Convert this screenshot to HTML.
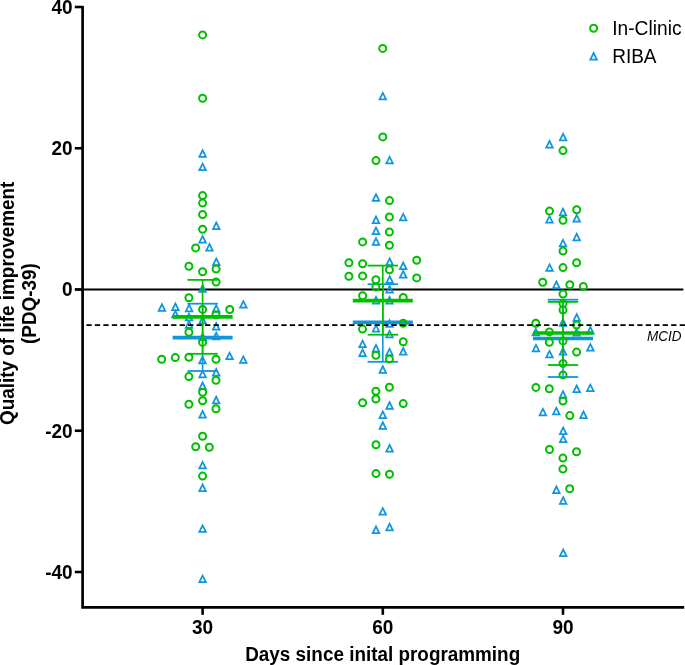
<!DOCTYPE html>
<html><head><meta charset="utf-8"><style>
html,body{margin:0;padding:0;background:#fff;}
body{width:685px;height:665px;overflow:hidden;position:relative;}
svg{position:absolute;left:0;top:0;}
text{font-family:"Liberation Sans",sans-serif;}
svg{-webkit-font-smoothing:antialiased;will-change:transform;}
</style></head><body>
<svg width="685" height="665" viewBox="0 0 685 665">
<rect width="685" height="665" fill="#fff"/>
<!-- reference lines -->
<line x1="75" y1="289.5" x2="683.4" y2="289.5" stroke="#000" stroke-width="2.1"/>
<path d="M202.60,148.30L197.90,157.70L207.30,157.70ZM202.60,152.21L204.47,155.95L200.73,155.95Z" fill="#0f96dc" fill-rule="evenodd"/>
<path d="M202.60,161.70L197.90,171.10L207.30,171.10ZM202.60,165.61L204.47,169.35L200.73,169.35Z" fill="#0f96dc" fill-rule="evenodd"/>
<path d="M216.30,220.50L211.60,229.90L221.00,229.90ZM216.30,224.41L218.17,228.15L214.43,228.15Z" fill="#0f96dc" fill-rule="evenodd"/>
<path d="M202.60,234.00L197.90,243.40L207.30,243.40ZM202.60,237.91L204.47,241.65L200.73,241.65Z" fill="#0f96dc" fill-rule="evenodd"/>
<path d="M209.50,242.00L204.80,251.40L214.20,251.40ZM209.50,245.91L211.37,249.65L207.63,249.65Z" fill="#0f96dc" fill-rule="evenodd"/>
<path d="M216.30,256.50L211.60,265.90L221.00,265.90ZM216.30,260.41L218.17,264.15L214.43,264.15Z" fill="#0f96dc" fill-rule="evenodd"/>
<path d="M202.60,283.30L197.90,292.70L207.30,292.70ZM202.60,287.21L204.47,290.95L200.73,290.95Z" fill="#0f96dc" fill-rule="evenodd"/>
<path d="M243.40,299.20L238.70,308.60L248.10,308.60ZM243.40,303.11L245.27,306.85L241.53,306.85Z" fill="#0f96dc" fill-rule="evenodd"/>
<path d="M161.90,302.30L157.20,311.70L166.60,311.70ZM161.90,306.21L163.77,309.95L160.03,309.95Z" fill="#0f96dc" fill-rule="evenodd"/>
<path d="M175.40,301.60L170.70,311.00L180.10,311.00ZM175.40,305.51L177.27,309.25L173.53,309.25Z" fill="#0f96dc" fill-rule="evenodd"/>
<path d="M189.10,302.80L184.40,312.20L193.80,312.20ZM189.10,306.71L190.97,310.45L187.23,310.45Z" fill="#0f96dc" fill-rule="evenodd"/>
<path d="M216.20,303.30L211.50,312.70L220.90,312.70ZM216.20,307.21L218.07,310.95L214.33,310.95Z" fill="#0f96dc" fill-rule="evenodd"/>
<path d="M175.40,308.90L170.70,318.30L180.10,318.30ZM175.40,312.81L177.27,316.55L173.53,316.55Z" fill="#0f96dc" fill-rule="evenodd"/>
<path d="M189.00,311.80L184.30,321.20L193.70,321.20ZM189.00,315.71L190.87,319.45L187.13,319.45Z" fill="#0f96dc" fill-rule="evenodd"/>
<path d="M202.60,314.90L197.90,324.30L207.30,324.30ZM202.60,318.81L204.47,322.55L200.73,322.55Z" fill="#0f96dc" fill-rule="evenodd"/>
<path d="M189.00,319.30L184.30,328.70L193.70,328.70ZM189.00,323.21L190.87,326.95L187.13,326.95Z" fill="#0f96dc" fill-rule="evenodd"/>
<path d="M216.20,321.10L211.50,330.50L220.90,330.50ZM216.20,325.01L218.07,328.75L214.33,328.75Z" fill="#0f96dc" fill-rule="evenodd"/>
<path d="M216.20,330.80L211.50,340.20L220.90,340.20ZM216.20,334.71L218.07,338.45L214.33,338.45Z" fill="#0f96dc" fill-rule="evenodd"/>
<path d="M202.60,331.50L197.90,340.90L207.30,340.90ZM202.60,335.41L204.47,339.15L200.73,339.15Z" fill="#0f96dc" fill-rule="evenodd"/>
<path d="M202.50,354.80L197.80,364.20L207.20,364.20ZM202.50,358.71L204.37,362.45L200.63,362.45Z" fill="#0f96dc" fill-rule="evenodd"/>
<path d="M229.60,350.70L224.90,360.10L234.30,360.10ZM229.60,354.61L231.47,358.35L227.73,358.35Z" fill="#0f96dc" fill-rule="evenodd"/>
<path d="M243.30,354.40L238.60,363.80L248.00,363.80ZM243.30,358.31L245.17,362.05L241.43,362.05Z" fill="#0f96dc" fill-rule="evenodd"/>
<path d="M216.20,367.10L211.50,376.50L220.90,376.50ZM216.20,371.01L218.07,374.75L214.33,374.75Z" fill="#0f96dc" fill-rule="evenodd"/>
<path d="M202.60,368.80L197.90,378.20L207.30,378.20ZM202.60,372.71L204.47,376.45L200.73,376.45Z" fill="#0f96dc" fill-rule="evenodd"/>
<path d="M202.60,380.50L197.90,389.90L207.30,389.90ZM202.60,384.41L204.47,388.15L200.73,388.15Z" fill="#0f96dc" fill-rule="evenodd"/>
<path d="M216.20,394.80L211.50,404.20L220.90,404.20ZM216.20,398.71L218.07,402.45L214.33,402.45Z" fill="#0f96dc" fill-rule="evenodd"/>
<path d="M202.60,409.10L197.90,418.50L207.30,418.50ZM202.60,413.01L204.47,416.75L200.73,416.75Z" fill="#0f96dc" fill-rule="evenodd"/>
<path d="M202.60,459.90L197.90,469.30L207.30,469.30ZM202.60,463.81L204.47,467.55L200.73,467.55Z" fill="#0f96dc" fill-rule="evenodd"/>
<path d="M202.60,482.50L197.90,491.90L207.30,491.90ZM202.60,486.41L204.47,490.15L200.73,490.15Z" fill="#0f96dc" fill-rule="evenodd"/>
<path d="M202.60,523.40L197.90,532.80L207.30,532.80ZM202.60,527.31L204.47,531.05L200.73,531.05Z" fill="#0f96dc" fill-rule="evenodd"/>
<path d="M202.60,573.70L197.90,583.10L207.30,583.10ZM202.60,577.61L204.47,581.35L200.73,581.35Z" fill="#0f96dc" fill-rule="evenodd"/>
<path d="M382.80,90.90L378.10,100.30L387.50,100.30ZM382.80,94.81L384.67,98.55L380.93,98.55Z" fill="#0f96dc" fill-rule="evenodd"/>
<path d="M389.60,154.90L384.90,164.30L394.30,164.30ZM389.60,158.81L391.47,162.55L387.73,162.55Z" fill="#0f96dc" fill-rule="evenodd"/>
<path d="M376.00,192.30L371.30,201.70L380.70,201.70ZM376.00,196.21L377.87,199.95L374.13,199.95Z" fill="#0f96dc" fill-rule="evenodd"/>
<path d="M403.20,211.90L398.50,221.30L407.90,221.30ZM403.20,215.81L405.07,219.55L401.33,219.55Z" fill="#0f96dc" fill-rule="evenodd"/>
<path d="M376.00,214.60L371.30,224.00L380.70,224.00ZM376.00,218.51L377.87,222.25L374.13,222.25Z" fill="#0f96dc" fill-rule="evenodd"/>
<path d="M376.00,225.60L371.30,235.00L380.70,235.00ZM376.00,229.51L377.87,233.25L374.13,233.25Z" fill="#0f96dc" fill-rule="evenodd"/>
<path d="M376.00,236.30L371.30,245.70L380.70,245.70ZM376.00,240.21L377.87,243.95L374.13,243.95Z" fill="#0f96dc" fill-rule="evenodd"/>
<path d="M389.70,256.60L385.00,266.00L394.40,266.00ZM389.70,260.51L391.57,264.25L387.83,264.25Z" fill="#0f96dc" fill-rule="evenodd"/>
<path d="M403.20,260.60L398.50,270.00L407.90,270.00ZM403.20,264.51L405.07,268.25L401.33,268.25Z" fill="#0f96dc" fill-rule="evenodd"/>
<path d="M403.20,269.10L398.50,278.50L407.90,278.50ZM403.20,273.01L405.07,276.75L401.33,276.75Z" fill="#0f96dc" fill-rule="evenodd"/>
<path d="M389.70,274.30L385.00,283.70L394.40,283.70ZM389.70,278.21L391.57,281.95L387.83,281.95Z" fill="#0f96dc" fill-rule="evenodd"/>
<path d="M389.60,284.00L384.90,293.40L394.30,293.40ZM389.60,287.91L391.47,291.65L387.73,291.65Z" fill="#0f96dc" fill-rule="evenodd"/>
<path d="M376.00,295.00L371.30,304.40L380.70,304.40ZM376.00,298.91L377.87,302.65L374.13,302.65Z" fill="#0f96dc" fill-rule="evenodd"/>
<path d="M389.50,295.00L384.80,304.40L394.20,304.40ZM389.50,298.91L391.37,302.65L387.63,302.65Z" fill="#0f96dc" fill-rule="evenodd"/>
<path d="M389.50,318.30L384.80,327.70L394.20,327.70ZM389.50,322.21L391.37,325.95L387.63,325.95Z" fill="#0f96dc" fill-rule="evenodd"/>
<path d="M376.00,323.20L371.30,332.60L380.70,332.60ZM376.00,327.11L377.87,330.85L374.13,330.85Z" fill="#0f96dc" fill-rule="evenodd"/>
<path d="M389.50,328.90L384.80,338.30L394.20,338.30ZM389.50,332.81L391.37,336.55L387.63,336.55Z" fill="#0f96dc" fill-rule="evenodd"/>
<path d="M362.60,338.70L357.90,348.10L367.30,348.10ZM362.60,342.61L364.47,346.35L360.73,346.35Z" fill="#0f96dc" fill-rule="evenodd"/>
<path d="M362.60,347.50L357.90,356.90L367.30,356.90ZM362.60,351.41L364.47,355.15L360.73,355.15Z" fill="#0f96dc" fill-rule="evenodd"/>
<path d="M376.00,343.00L371.30,352.40L380.70,352.40ZM376.00,346.91L377.87,350.65L374.13,350.65Z" fill="#0f96dc" fill-rule="evenodd"/>
<path d="M389.50,346.90L384.80,356.30L394.20,356.30ZM389.50,350.81L391.37,354.55L387.63,354.55Z" fill="#0f96dc" fill-rule="evenodd"/>
<path d="M403.20,346.00L398.50,355.40L407.90,355.40ZM403.20,349.91L405.07,353.65L401.33,353.65Z" fill="#0f96dc" fill-rule="evenodd"/>
<path d="M382.80,364.30L378.10,373.70L387.50,373.70ZM382.80,368.21L384.67,371.95L380.93,371.95Z" fill="#0f96dc" fill-rule="evenodd"/>
<path d="M389.60,400.30L384.90,409.70L394.30,409.70ZM389.60,404.21L391.47,407.95L387.73,407.95Z" fill="#0f96dc" fill-rule="evenodd"/>
<path d="M382.80,409.60L378.10,419.00L387.50,419.00ZM382.80,413.51L384.67,417.25L380.93,417.25Z" fill="#0f96dc" fill-rule="evenodd"/>
<path d="M382.80,420.30L378.10,429.70L387.50,429.70ZM382.80,424.21L384.67,427.95L380.93,427.95Z" fill="#0f96dc" fill-rule="evenodd"/>
<path d="M389.60,443.00L384.90,452.40L394.30,452.40ZM389.60,446.91L391.47,450.65L387.73,450.65Z" fill="#0f96dc" fill-rule="evenodd"/>
<path d="M382.80,506.20L378.10,515.60L387.50,515.60ZM382.80,510.11L384.67,513.85L380.93,513.85Z" fill="#0f96dc" fill-rule="evenodd"/>
<path d="M376.00,524.60L371.30,534.00L380.70,534.00ZM376.00,528.51L377.87,532.25L374.13,532.25Z" fill="#0f96dc" fill-rule="evenodd"/>
<path d="M389.60,521.80L384.90,531.20L394.30,531.20ZM389.60,525.71L391.47,529.45L387.73,529.45Z" fill="#0f96dc" fill-rule="evenodd"/>
<path d="M563.10,131.80L558.40,141.20L567.80,141.20ZM563.10,135.71L564.97,139.45L561.23,139.45Z" fill="#0f96dc" fill-rule="evenodd"/>
<path d="M549.50,139.00L544.80,148.40L554.20,148.40ZM549.50,142.91L551.37,146.65L547.63,146.65Z" fill="#0f96dc" fill-rule="evenodd"/>
<path d="M563.00,206.80L558.30,216.20L567.70,216.20ZM563.00,210.71L564.87,214.45L561.13,214.45Z" fill="#0f96dc" fill-rule="evenodd"/>
<path d="M549.50,214.20L544.80,223.60L554.20,223.60ZM549.50,218.11L551.37,221.85L547.63,221.85Z" fill="#0f96dc" fill-rule="evenodd"/>
<path d="M576.70,213.10L572.00,222.50L581.40,222.50ZM576.70,217.01L578.57,220.75L574.83,220.75Z" fill="#0f96dc" fill-rule="evenodd"/>
<path d="M576.70,231.80L572.00,241.20L581.40,241.20ZM576.70,235.71L578.57,239.45L574.83,239.45Z" fill="#0f96dc" fill-rule="evenodd"/>
<path d="M563.00,237.90L558.30,247.30L567.70,247.30ZM563.00,241.81L564.87,245.55L561.13,245.55Z" fill="#0f96dc" fill-rule="evenodd"/>
<path d="M549.60,262.40L544.90,271.80L554.30,271.80ZM549.60,266.31L551.47,270.05L547.73,270.05Z" fill="#0f96dc" fill-rule="evenodd"/>
<path d="M556.40,279.60L551.70,289.00L561.10,289.00ZM556.40,283.51L558.27,287.25L554.53,287.25Z" fill="#0f96dc" fill-rule="evenodd"/>
<path d="M576.70,312.30L572.00,321.70L581.40,321.70ZM576.70,316.21L578.57,319.95L574.83,319.95Z" fill="#0f96dc" fill-rule="evenodd"/>
<path d="M563.00,317.30L558.30,326.70L567.70,326.70ZM563.00,321.21L564.87,324.95L561.13,324.95Z" fill="#0f96dc" fill-rule="evenodd"/>
<path d="M535.80,326.90L531.10,336.30L540.50,336.30ZM535.80,330.81L537.67,334.55L533.93,334.55Z" fill="#0f96dc" fill-rule="evenodd"/>
<path d="M576.60,327.10L571.90,336.50L581.30,336.50ZM576.60,331.01L578.47,334.75L574.73,334.75Z" fill="#0f96dc" fill-rule="evenodd"/>
<path d="M590.40,325.10L585.70,334.50L595.10,334.50ZM590.40,329.01L592.27,332.75L588.53,332.75Z" fill="#0f96dc" fill-rule="evenodd"/>
<path d="M536.00,342.90L531.30,352.30L540.70,352.30ZM536.00,346.81L537.87,350.55L534.13,350.55Z" fill="#0f96dc" fill-rule="evenodd"/>
<path d="M563.00,346.00L558.30,355.40L567.70,355.40ZM563.00,349.91L564.87,353.65L561.13,353.65Z" fill="#0f96dc" fill-rule="evenodd"/>
<path d="M549.50,348.90L544.80,358.30L554.20,358.30ZM549.50,352.81L551.37,356.55L547.63,356.55Z" fill="#0f96dc" fill-rule="evenodd"/>
<path d="M590.40,342.20L585.70,351.60L595.10,351.60ZM590.40,346.11L592.27,349.85L588.53,349.85Z" fill="#0f96dc" fill-rule="evenodd"/>
<path d="M576.70,383.60L572.00,393.00L581.40,393.00ZM576.70,387.51L578.57,391.25L574.83,391.25Z" fill="#0f96dc" fill-rule="evenodd"/>
<path d="M590.30,382.70L585.60,392.10L595.00,392.10ZM590.30,386.61L592.17,390.35L588.43,390.35Z" fill="#0f96dc" fill-rule="evenodd"/>
<path d="M563.00,389.30L558.30,398.70L567.70,398.70ZM563.00,393.21L564.87,396.95L561.13,396.95Z" fill="#0f96dc" fill-rule="evenodd"/>
<path d="M542.90,406.90L538.20,416.30L547.60,416.30ZM542.90,410.81L544.77,414.55L541.03,414.55Z" fill="#0f96dc" fill-rule="evenodd"/>
<path d="M556.30,405.90L551.60,415.30L561.00,415.30ZM556.30,409.81L558.17,413.55L554.43,413.55Z" fill="#0f96dc" fill-rule="evenodd"/>
<path d="M583.50,409.60L578.80,419.00L588.20,419.00ZM583.50,413.51L585.37,417.25L581.63,417.25Z" fill="#0f96dc" fill-rule="evenodd"/>
<path d="M563.20,425.60L558.50,435.00L567.90,435.00ZM563.20,429.51L565.07,433.25L561.33,433.25Z" fill="#0f96dc" fill-rule="evenodd"/>
<path d="M563.20,433.70L558.50,443.10L567.90,443.10ZM563.20,437.61L565.07,441.35L561.33,441.35Z" fill="#0f96dc" fill-rule="evenodd"/>
<path d="M556.40,484.60L551.70,494.00L561.10,494.00ZM556.40,488.51L558.27,492.25L554.53,492.25Z" fill="#0f96dc" fill-rule="evenodd"/>
<path d="M563.20,495.30L558.50,504.70L567.90,504.70ZM563.20,499.21L565.07,502.95L561.33,502.95Z" fill="#0f96dc" fill-rule="evenodd"/>
<path d="M563.20,547.50L558.50,556.90L567.90,556.90ZM563.20,551.41L565.07,555.15L561.33,555.15Z" fill="#0f96dc" fill-rule="evenodd"/>
<line x1="202.6" y1="303.7" x2="202.6" y2="371.0" stroke="#0f96dc" stroke-width="1.6"/><line x1="187.4" y1="303.7" x2="217.79999999999998" y2="303.7" stroke="#0f96dc" stroke-width="1.8"/><line x1="187.4" y1="371.0" x2="217.79999999999998" y2="371.0" stroke="#0f96dc" stroke-width="1.8"/><line x1="172.6" y1="337.6" x2="232.6" y2="337.6" stroke="#0f96dc" stroke-width="3.6"/>
<line x1="382.8" y1="284.2" x2="382.8" y2="361.8" stroke="#0f96dc" stroke-width="1.6"/><line x1="367.6" y1="284.2" x2="398.0" y2="284.2" stroke="#0f96dc" stroke-width="1.8"/><line x1="367.6" y1="361.8" x2="398.0" y2="361.8" stroke="#0f96dc" stroke-width="1.8"/><line x1="352.8" y1="322.4" x2="412.8" y2="322.4" stroke="#0f96dc" stroke-width="3.6"/>
<line x1="563.0" y1="299.7" x2="563.0" y2="377.0" stroke="#0f96dc" stroke-width="1.6"/><line x1="547.8" y1="299.7" x2="578.2" y2="299.7" stroke="#0f96dc" stroke-width="1.8"/><line x1="547.8" y1="377.0" x2="578.2" y2="377.0" stroke="#0f96dc" stroke-width="1.8"/><line x1="533.0" y1="338.5" x2="593.0" y2="338.5" stroke="#0f96dc" stroke-width="3.6"/>
<circle cx="202.60" cy="34.90" r="3.5" fill="none" stroke="#00bf00" stroke-width="2.0"/>
<circle cx="202.60" cy="98.20" r="3.5" fill="none" stroke="#00bf00" stroke-width="2.0"/>
<circle cx="202.60" cy="195.60" r="3.5" fill="none" stroke="#00bf00" stroke-width="2.0"/>
<circle cx="202.60" cy="203.10" r="3.5" fill="none" stroke="#00bf00" stroke-width="2.0"/>
<circle cx="202.60" cy="214.50" r="3.5" fill="none" stroke="#00bf00" stroke-width="2.0"/>
<circle cx="202.60" cy="229.20" r="3.5" fill="none" stroke="#00bf00" stroke-width="2.0"/>
<circle cx="195.60" cy="247.90" r="3.5" fill="none" stroke="#00bf00" stroke-width="2.0"/>
<circle cx="188.90" cy="266.20" r="3.5" fill="none" stroke="#00bf00" stroke-width="2.0"/>
<circle cx="202.60" cy="271.80" r="3.5" fill="none" stroke="#00bf00" stroke-width="2.0"/>
<circle cx="216.10" cy="269.10" r="3.5" fill="none" stroke="#00bf00" stroke-width="2.0"/>
<circle cx="216.10" cy="282.00" r="3.5" fill="none" stroke="#00bf00" stroke-width="2.0"/>
<circle cx="188.90" cy="297.70" r="3.5" fill="none" stroke="#00bf00" stroke-width="2.0"/>
<circle cx="202.60" cy="309.40" r="3.5" fill="none" stroke="#00bf00" stroke-width="2.0"/>
<circle cx="229.70" cy="309.50" r="3.5" fill="none" stroke="#00bf00" stroke-width="2.0"/>
<circle cx="216.00" cy="314.80" r="3.5" fill="none" stroke="#00bf00" stroke-width="2.0"/>
<circle cx="188.90" cy="332.20" r="3.5" fill="none" stroke="#00bf00" stroke-width="2.0"/>
<circle cx="202.60" cy="342.40" r="3.5" fill="none" stroke="#00bf00" stroke-width="2.0"/>
<circle cx="161.70" cy="359.30" r="3.5" fill="none" stroke="#00bf00" stroke-width="2.0"/>
<circle cx="175.30" cy="357.60" r="3.5" fill="none" stroke="#00bf00" stroke-width="2.0"/>
<circle cx="188.90" cy="357.20" r="3.5" fill="none" stroke="#00bf00" stroke-width="2.0"/>
<circle cx="216.00" cy="359.30" r="3.5" fill="none" stroke="#00bf00" stroke-width="2.0"/>
<circle cx="188.90" cy="376.60" r="3.5" fill="none" stroke="#00bf00" stroke-width="2.0"/>
<circle cx="216.00" cy="380.30" r="3.5" fill="none" stroke="#00bf00" stroke-width="2.0"/>
<circle cx="202.60" cy="392.20" r="3.5" fill="none" stroke="#00bf00" stroke-width="2.0"/>
<circle cx="202.60" cy="400.80" r="3.5" fill="none" stroke="#00bf00" stroke-width="2.0"/>
<circle cx="188.90" cy="404.30" r="3.5" fill="none" stroke="#00bf00" stroke-width="2.0"/>
<circle cx="216.00" cy="408.80" r="3.5" fill="none" stroke="#00bf00" stroke-width="2.0"/>
<circle cx="202.60" cy="436.30" r="3.5" fill="none" stroke="#00bf00" stroke-width="2.0"/>
<circle cx="195.70" cy="446.80" r="3.5" fill="none" stroke="#00bf00" stroke-width="2.0"/>
<circle cx="209.30" cy="447.20" r="3.5" fill="none" stroke="#00bf00" stroke-width="2.0"/>
<circle cx="202.60" cy="476.10" r="3.5" fill="none" stroke="#00bf00" stroke-width="2.0"/>
<circle cx="382.70" cy="48.40" r="3.5" fill="none" stroke="#00bf00" stroke-width="2.0"/>
<circle cx="382.80" cy="136.90" r="3.5" fill="none" stroke="#00bf00" stroke-width="2.0"/>
<circle cx="376.00" cy="160.60" r="3.5" fill="none" stroke="#00bf00" stroke-width="2.0"/>
<circle cx="389.50" cy="200.60" r="3.5" fill="none" stroke="#00bf00" stroke-width="2.0"/>
<circle cx="389.40" cy="217.00" r="3.5" fill="none" stroke="#00bf00" stroke-width="2.0"/>
<circle cx="389.40" cy="232.00" r="3.5" fill="none" stroke="#00bf00" stroke-width="2.0"/>
<circle cx="362.60" cy="241.90" r="3.5" fill="none" stroke="#00bf00" stroke-width="2.0"/>
<circle cx="389.40" cy="245.30" r="3.5" fill="none" stroke="#00bf00" stroke-width="2.0"/>
<circle cx="348.90" cy="262.70" r="3.5" fill="none" stroke="#00bf00" stroke-width="2.0"/>
<circle cx="362.60" cy="263.70" r="3.5" fill="none" stroke="#00bf00" stroke-width="2.0"/>
<circle cx="416.70" cy="260.30" r="3.5" fill="none" stroke="#00bf00" stroke-width="2.0"/>
<circle cx="348.90" cy="276.20" r="3.5" fill="none" stroke="#00bf00" stroke-width="2.0"/>
<circle cx="362.60" cy="275.90" r="3.5" fill="none" stroke="#00bf00" stroke-width="2.0"/>
<circle cx="416.70" cy="277.90" r="3.5" fill="none" stroke="#00bf00" stroke-width="2.0"/>
<circle cx="389.40" cy="269.80" r="3.5" fill="none" stroke="#00bf00" stroke-width="2.0"/>
<circle cx="375.90" cy="279.80" r="3.5" fill="none" stroke="#00bf00" stroke-width="2.0"/>
<circle cx="375.90" cy="287.10" r="3.5" fill="none" stroke="#00bf00" stroke-width="2.0"/>
<circle cx="362.60" cy="295.80" r="3.5" fill="none" stroke="#00bf00" stroke-width="2.0"/>
<circle cx="403.20" cy="297.40" r="3.5" fill="none" stroke="#00bf00" stroke-width="2.0"/>
<circle cx="403.20" cy="323.30" r="3.5" fill="none" stroke="#00bf00" stroke-width="2.0"/>
<circle cx="362.50" cy="329.10" r="3.5" fill="none" stroke="#00bf00" stroke-width="2.0"/>
<circle cx="403.20" cy="341.80" r="3.5" fill="none" stroke="#00bf00" stroke-width="2.0"/>
<circle cx="375.90" cy="355.20" r="3.5" fill="none" stroke="#00bf00" stroke-width="2.0"/>
<circle cx="389.40" cy="359.10" r="3.5" fill="none" stroke="#00bf00" stroke-width="2.0"/>
<circle cx="389.40" cy="387.30" r="3.5" fill="none" stroke="#00bf00" stroke-width="2.0"/>
<circle cx="375.90" cy="391.20" r="3.5" fill="none" stroke="#00bf00" stroke-width="2.0"/>
<circle cx="375.90" cy="399.00" r="3.5" fill="none" stroke="#00bf00" stroke-width="2.0"/>
<circle cx="362.60" cy="402.70" r="3.5" fill="none" stroke="#00bf00" stroke-width="2.0"/>
<circle cx="403.20" cy="403.60" r="3.5" fill="none" stroke="#00bf00" stroke-width="2.0"/>
<circle cx="376.00" cy="444.80" r="3.5" fill="none" stroke="#00bf00" stroke-width="2.0"/>
<circle cx="376.00" cy="473.60" r="3.5" fill="none" stroke="#00bf00" stroke-width="2.0"/>
<circle cx="389.50" cy="474.30" r="3.5" fill="none" stroke="#00bf00" stroke-width="2.0"/>
<circle cx="563.00" cy="150.60" r="3.5" fill="none" stroke="#00bf00" stroke-width="2.0"/>
<circle cx="549.50" cy="211.10" r="3.5" fill="none" stroke="#00bf00" stroke-width="2.0"/>
<circle cx="576.70" cy="209.70" r="3.5" fill="none" stroke="#00bf00" stroke-width="2.0"/>
<circle cx="563.00" cy="220.20" r="3.5" fill="none" stroke="#00bf00" stroke-width="2.0"/>
<circle cx="563.00" cy="251.10" r="3.5" fill="none" stroke="#00bf00" stroke-width="2.0"/>
<circle cx="576.60" cy="262.70" r="3.5" fill="none" stroke="#00bf00" stroke-width="2.0"/>
<circle cx="563.00" cy="267.60" r="3.5" fill="none" stroke="#00bf00" stroke-width="2.0"/>
<circle cx="542.70" cy="282.30" r="3.5" fill="none" stroke="#00bf00" stroke-width="2.0"/>
<circle cx="569.80" cy="284.70" r="3.5" fill="none" stroke="#00bf00" stroke-width="2.0"/>
<circle cx="583.30" cy="286.40" r="3.5" fill="none" stroke="#00bf00" stroke-width="2.0"/>
<circle cx="563.00" cy="294.00" r="3.5" fill="none" stroke="#00bf00" stroke-width="2.0"/>
<circle cx="563.00" cy="303.40" r="3.5" fill="none" stroke="#00bf00" stroke-width="2.0"/>
<circle cx="563.00" cy="310.00" r="3.5" fill="none" stroke="#00bf00" stroke-width="2.0"/>
<circle cx="535.80" cy="323.30" r="3.5" fill="none" stroke="#00bf00" stroke-width="2.0"/>
<circle cx="576.60" cy="325.10" r="3.5" fill="none" stroke="#00bf00" stroke-width="2.0"/>
<circle cx="549.40" cy="331.90" r="3.5" fill="none" stroke="#00bf00" stroke-width="2.0"/>
<circle cx="563.00" cy="340.90" r="3.5" fill="none" stroke="#00bf00" stroke-width="2.0"/>
<circle cx="549.30" cy="342.20" r="3.5" fill="none" stroke="#00bf00" stroke-width="2.0"/>
<circle cx="576.60" cy="352.10" r="3.5" fill="none" stroke="#00bf00" stroke-width="2.0"/>
<circle cx="563.00" cy="363.40" r="3.5" fill="none" stroke="#00bf00" stroke-width="2.0"/>
<circle cx="563.00" cy="374.90" r="3.5" fill="none" stroke="#00bf00" stroke-width="2.0"/>
<circle cx="535.90" cy="387.40" r="3.5" fill="none" stroke="#00bf00" stroke-width="2.0"/>
<circle cx="549.30" cy="388.80" r="3.5" fill="none" stroke="#00bf00" stroke-width="2.0"/>
<circle cx="563.00" cy="401.10" r="3.5" fill="none" stroke="#00bf00" stroke-width="2.0"/>
<circle cx="569.80" cy="415.60" r="3.5" fill="none" stroke="#00bf00" stroke-width="2.0"/>
<circle cx="549.50" cy="449.50" r="3.5" fill="none" stroke="#00bf00" stroke-width="2.0"/>
<circle cx="576.50" cy="451.70" r="3.5" fill="none" stroke="#00bf00" stroke-width="2.0"/>
<circle cx="562.90" cy="458.10" r="3.5" fill="none" stroke="#00bf00" stroke-width="2.0"/>
<circle cx="562.90" cy="469.10" r="3.5" fill="none" stroke="#00bf00" stroke-width="2.0"/>
<circle cx="569.70" cy="488.80" r="3.5" fill="none" stroke="#00bf00" stroke-width="2.0"/>
<line x1="86.4" y1="325.05" x2="685" y2="325.05" stroke="#000" stroke-width="1.8" stroke-dasharray="5.3 3.175"/>
<line x1="202.6" y1="279.9" x2="202.6" y2="353.8" stroke="#00bf00" stroke-width="1.6"/><line x1="187.4" y1="279.9" x2="217.79999999999998" y2="279.9" stroke="#00bf00" stroke-width="1.8"/><line x1="187.4" y1="353.8" x2="217.79999999999998" y2="353.8" stroke="#00bf00" stroke-width="1.8"/><line x1="172.6" y1="316.9" x2="232.6" y2="316.9" stroke="#00bf00" stroke-width="3.6"/>
<line x1="382.8" y1="265.6" x2="382.8" y2="334.7" stroke="#00bf00" stroke-width="1.6"/><line x1="367.6" y1="265.6" x2="398.0" y2="265.6" stroke="#00bf00" stroke-width="1.8"/><line x1="367.6" y1="334.7" x2="398.0" y2="334.7" stroke="#00bf00" stroke-width="1.8"/><line x1="352.8" y1="300.6" x2="412.8" y2="300.6" stroke="#00bf00" stroke-width="3.6"/>
<line x1="563.0" y1="301.9" x2="563.0" y2="365.0" stroke="#00bf00" stroke-width="1.6"/><line x1="547.8" y1="301.9" x2="578.2" y2="301.9" stroke="#00bf00" stroke-width="1.8"/><line x1="547.8" y1="365.0" x2="578.2" y2="365.0" stroke="#00bf00" stroke-width="1.8"/><line x1="533.0" y1="333.0" x2="593.0" y2="333.0" stroke="#00bf00" stroke-width="3.6"/>
<!-- axes -->
<path d="M82.6,5.9V607.4H684.2" fill="none" stroke="#000" stroke-width="2.7"/>
<g stroke="#000" stroke-width="2.6">
<line x1="74.8" y1="7.0" x2="82.6" y2="7.0"/>
<line x1="74.8" y1="148.25" x2="82.6" y2="148.25"/>
<line x1="74.8" y1="289.5" x2="82.6" y2="289.5"/>
<line x1="74.8" y1="430.75" x2="82.6" y2="430.75"/>
<line x1="74.8" y1="572.0" x2="82.6" y2="572.0"/>
<line x1="202.6" y1="607.4" x2="202.6" y2="614.8"/>
<line x1="382.8" y1="607.4" x2="382.8" y2="614.8"/>
<line x1="563.0" y1="607.4" x2="563.0" y2="614.8"/>
</g>
<text transform="translate(72.6,14.2) scale(1,1.045)" font-size="19" font-weight="bold" text-anchor="end">40</text>
<text transform="translate(72.6,155.2) scale(1,1.045)" font-size="19" font-weight="bold" text-anchor="end">20</text>
<text transform="translate(72.6,296.4) scale(1,1.045)" font-size="19" font-weight="bold" text-anchor="end">0</text>
<text transform="translate(72.6,438) scale(1,1.045)" font-size="19" font-weight="bold" text-anchor="end">-20</text>
<text transform="translate(72.6,579.2) scale(1,1.045)" font-size="19" font-weight="bold" text-anchor="end">-40</text>
<text transform="translate(202.6,634.1) scale(1,1.045)" font-size="19" font-weight="bold" text-anchor="middle">30</text>
<text transform="translate(382.8,634.1) scale(1,1.045)" font-size="19" font-weight="bold" text-anchor="middle">60</text>
<text transform="translate(563.0,634.1) scale(1,1.045)" font-size="19" font-weight="bold" text-anchor="middle">90</text>
<text transform="translate(382.7,660.7) scale(1,1.045)" font-size="18.9" font-weight="bold" text-anchor="middle">Days since inital programming</text>
<text transform="translate(14,303.3) rotate(-90) scale(1,1.045)" font-size="18.9" font-weight="bold" text-anchor="middle">Quality of life improvement</text>
<text transform="translate(36,303.6) rotate(-90) scale(1,1.045)" font-size="18.9" font-weight="bold" text-anchor="middle">(PDQ-39)</text>
<text transform="translate(681.5,341) scale(1,1.045)" font-size="13.5" text-anchor="end" font-style="italic">MCID</text>
<!-- legend -->
<circle cx="593.6" cy="28.2" r="3.5" fill="none" stroke="#00bf00" stroke-width="2.0"/>
<path d="M593.60,51.10L588.90,60.50L598.30,60.50ZM593.60,55.01L595.47,58.75L591.73,58.75Z" fill="#0f96dc" fill-rule="evenodd"/>
<text transform="translate(612.2,34.7) scale(1,1.045)" font-size="19.2">In-Clinic</text>
<text transform="translate(612.2,63) scale(1,1.045)" font-size="19">RIBA</text>
</svg>
</body></html>
